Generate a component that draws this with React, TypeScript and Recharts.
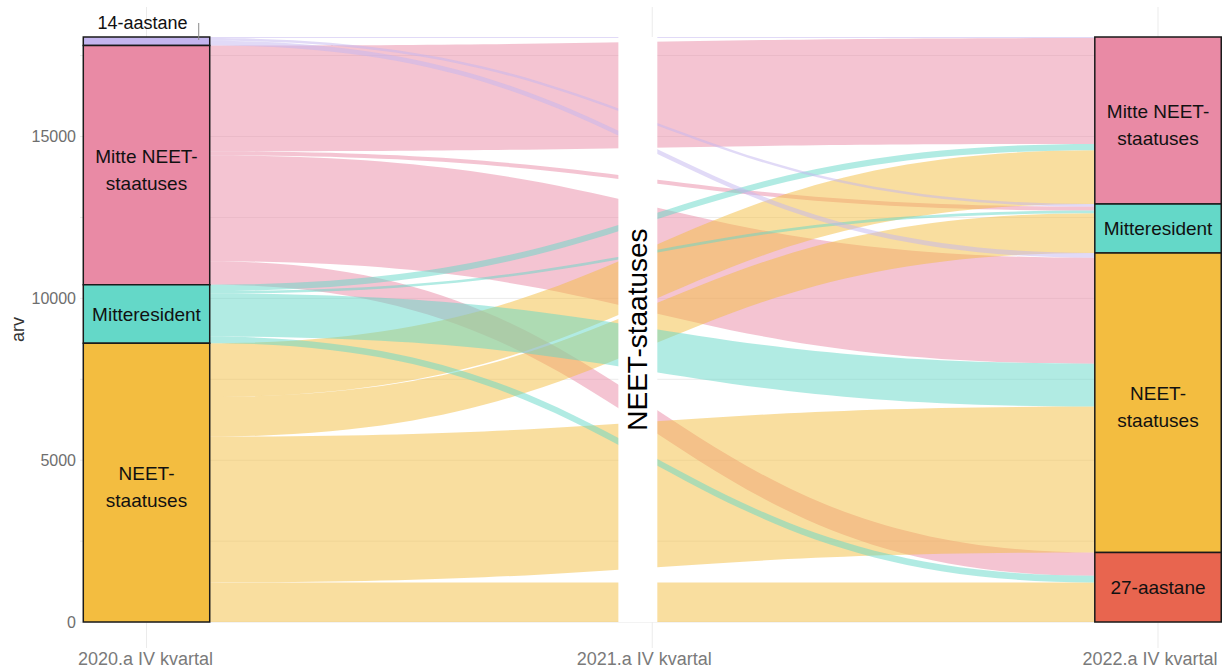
import React from 'react';
import { ComposedChart, Area, XAxis, YAxis, CartesianGrid, ReferenceArea } from 'recharts';

const FONT = '"Liberation Sans", Arial, sans-serif';

const years = ['2020.a IV kvartal', '2021.a IV kvartal', '2022.a IV kvartal'];

// staatus 2020 (ülevalt alla)
const groups2020 = ['14-aastane', 'Mitte NEET-staatuses', 'Mitteresident', 'NEET-staatuses'];
// staatus 2022 (ülevalt alla)
const groups2022 = ['Mitte NEET-staatuses', 'Mitteresident', 'NEET-staatuses', '27-aastane'];
const middleGroup = 'NEET-staatuses';

// arv 2020 grupist -> 2022 gruppi (groups2022 järjekorras)
const from14 = [35, 80, 150, 0];
const fromMitteNeet = [3270, 123, 3270, 722];
const fromMitteres = [195, 82, 1327, 204];
const fromNeet = [1660, 1225, 4506, 1225];

const yTicks = [0, 5000, 10000, 15000];
const gridY = [0, 2500, 5000, 7500, 10000, 12500, 15000, 17500];

const COLORS: Record<string, string> = {
  '14-aastane': '#c4b5ef',
  'Mitte NEET-staatuses': '#e98aa5',
  'Mitteresident': '#64d8c8',
  'NEET-staatuses': '#f3bd40',
  '27-aastane': '#e8654f',
};

const BOX_HALF = 0.125;
const MID_X: [number, number] = [1.933, 2.01];
const tickShift = [-1, -8, -8];

const sum = (a: number[]) => a.reduce((s, v) => s + v, 0);
const matrix = [from14, fromMitteNeet, fromMitteres, fromNeet];
const leftTotals = matrix.map(sum);
const rightTotals = groups2022.map((_, j) => sum(matrix.map((r) => r[j])));
const total = sum(leftTotals);
const tops = (totals: number[]) => totals.map((_, i) => total - sum(totals.slice(0, i)));
const leftTops = tops(leftTotals);
const rightTops = tops(rightTotals);

type Flow = { key: string; from: number; to: number; left: number[]; right: number[] };
const flows: Flow[] = [];
matrix.forEach((row, i) =>
  row.forEach((v, j) => {
    if (!v) return;
    const lHi = leftTops[i] - sum(row.slice(0, j));
    const rHi = rightTops[j] - sum(matrix.slice(0, i).map((r) => r[j]));
    flows.push({ key: `f${i}_${j}`, from: i, to: j, left: [lHi - v, lHi], right: [rHi - v, rHi] });
  })
);

const flowData = [
  Object.fromEntries([['x', 1 + BOX_HALF], ...flows.map((f) => [f.key, f.left])]),
  Object.fromEntries([['x', 3 - BOX_HALF], ...flows.map((f) => [f.key, f.right])]),
];

// joonistamise järjekord: roosa, kollane, türkiis, lilla
const drawOrder = [1, 3, 2, 0];

const strata = [
  ...groups2020.map((g, i) => ({ x: 1, name: g, y1: leftTops[i] - leftTotals[i], y2: leftTops[i] })),
  ...groups2022.map((g, j) => ({ x: 3, name: g, y1: rightTops[j] - rightTotals[j], y2: rightTops[j] })),
];

const splitLabel = (name: string) =>
  name.endsWith('-staatuses') ? [name.replace('staatuses', ''), 'staatuses'] : [name];

const StratumLabel = ({ viewBox, name }: any) => {
  if (!viewBox) return null;
  const { x, y, width, height } = viewBox;
  const cx = x + width / 2;
  if (height < 20) {
    return (
      <g>
        <line x1={x + width - 11} x2={x + width - 11} y1={y - 14} y2={y + 3} stroke="#888" strokeWidth={1} />
        <text x={cx - 4} y={y - 8} textAnchor="middle" fontSize={18} fontFamily={FONT} fill="#111">
          {name}
        </text>
      </g>
    );
  }
  const lines = splitLabel(name);
  const lh = 27;
  const cy = y + height / 2 - ((lines.length - 1) * lh) / 2 + (lines.length > 1 ? 4 : 0);
  return (
    <text x={cx} y={cy} textAnchor="middle" dominantBaseline="central" fontSize={19} fontFamily={FONT} fill="#111">
      {lines.map((l, i) => (
        <tspan key={i} x={cx} dy={i === 0 ? 0 : lh}>
          {l}
        </tspan>
      ))}
    </text>
  );
};

const MiddleLabel = ({ viewBox }: any) => {
  if (!viewBox) return null;
  const cx = viewBox.x + viewBox.width / 2;
  const cy = viewBox.y + viewBox.height / 2;
  return (
    <text
      x={cx}
      y={cy}
      transform={`rotate(-90 ${cx} ${cy})`}
      textAnchor="middle"
      dominantBaseline="central"
      fontSize={28}
      fontFamily={FONT}
      fill="#000"
    >
      {middleGroup}
    </text>
  );
};

const YearTick = ({ x, y, payload, index }: any) => (
  <text x={x + (tickShift[index] || 0)} y={y} dy="0.71em" textAnchor="middle" fontSize={18} fontFamily={FONT} fill="#7a7a7a">
    {years[Math.round(payload.value) - 1]}
  </text>
);

const AxisTitle = ({ viewBox }: any) => {
  const cx = (viewBox?.x ?? 0) + 17.5;
  const cy = (viewBox?.y ?? 7) + (viewBox?.height ?? 641) / 2 + 2;
  return (
    <text x={cx} y={cy} transform={`rotate(-90 ${cx} ${cy})`} textAnchor="middle" dominantBaseline="central" fontSize={18} fontFamily={FONT} fill="#333">
      arv
    </text>
  );
};

export default function App() {
  return (
    <div style={{ position: 'absolute', left: 0, top: 0, fontFamily: FONT }}>
      <ComposedChart width={1222} height={670} data={flowData} margin={{ top: 7, right: 0, bottom: 0, left: 0 }}>
        <CartesianGrid stroke="#ebebeb" horizontalValues={gridY} verticalValues={[1, 2, 3]} />
        <XAxis
          type="number"
          dataKey="x"
          domain={[0.8685, 3.1265]}
          ticks={[1, 2, 3]}
          interval={0}
          allowDataOverflow
          axisLine={false}
          tickLine={false}
          tickSize={0}
          tickMargin={4}
          height={22}
          tick={<YearTick />}
        />
        <YAxis
          type="number"
          domain={[-800, 19000]}
          ticks={yTicks}
          allowDataOverflow
          axisLine={false}
          tickLine={false}
          tickSize={0}
          tickMargin={4}
          width={80}
          tick={{ fontSize: 16, fill: '#6e6e6e', fontFamily: FONT }}
          label={<AxisTitle />}
        />
        {drawOrder.map((gi) =>
          flows
            .filter((f) => f.from === gi)
            .map((f) => (
              <Area
                key={f.key}
                dataKey={f.key}
                type="bumpX"
                fill={COLORS[groups2020[f.from]]}
                fillOpacity={0.5}
                stroke="none"
                dot={false}
                activeDot={false}
                isAnimationActive={false}
              />
            ))
        )}
        <ReferenceArea
          x1={MID_X[0]}
          x2={MID_X[1]}
          y1={0}
          y2={total}
          fill="#ffffff"
          fillOpacity={1}
          stroke="none"
          ifOverflow="visible"
          zIndex={600}
          label={<MiddleLabel />}
        />
        {strata.map((s, i) => (
          <ReferenceArea
            key={`s${i}`}
            x1={s.x - BOX_HALF}
            x2={s.x + BOX_HALF}
            y1={s.y1}
            y2={s.y2}
            fill={COLORS[s.name]}
            fillOpacity={1}
            stroke="#1a1a1a"
            strokeWidth={1.5}
            ifOverflow="visible"
            zIndex={600}
            label={<StratumLabel name={s.name} />}
          />
        ))}
      </ComposedChart>
    </div>
  );
}
